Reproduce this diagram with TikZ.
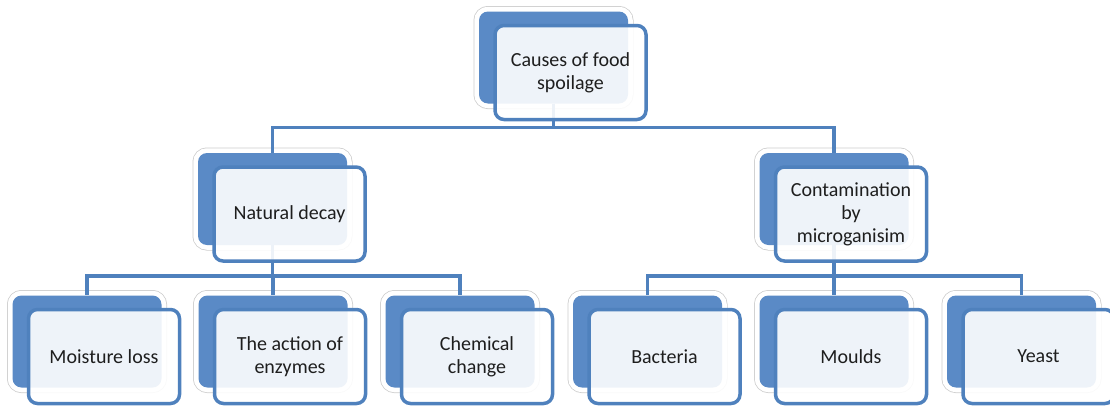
\documentclass[tikz,border=0pt]{standalone}
\usepackage{fontspec}
\setmainfont{Carlito}
\usetikzlibrary{calc}
\definecolor{accfill}{HTML}{5A8AC6}
\definecolor{accline}{HTML}{4F81BD}
\definecolor{txt}{HTML}{1E1E1E}
\begin{document}
\begin{tikzpicture}[x=1pt,y=-1pt,
  back/.style={minimum width=149pt, minimum height=92pt, inner sep=0pt,
    rounded corners=9pt, fill=accfill,
    preaction={draw=black!20, line width=11pt},
    preaction={draw=white, line width=9.5pt}},
  front/.style={minimum width=151pt, minimum height=94pt, inner sep=2pt,
    align=center, rounded corners=9pt,
    draw=accline, line width=3.5pt, fill=white, fill opacity=0.9,
    text opacity=1, text=txt,
    font=\fontsize{20}{23}\selectfont},
  conn/.style={draw=accline, line width=3.5pt}]
\useasboundingbox (0,0) rectangle (1110,407);

\coordinate (P0) at (553.5,57.5);
\coordinate (P1) at (272.5,199);
\coordinate (P2) at (834,199);
\coordinate (Q1) at (87,341.5);
\coordinate (Q2) at (273,341.5);
\coordinate (Q3) at (460,341.5);
\coordinate (Q4) at (647.5,341.5);
\coordinate (Q5) at (834,341.5);
\coordinate (Q6) at (1021.5,341.5);

% back boxes
\node[back] (b0) at (P0) {};
\node[back] (b1) at (P1) {};
\node[back] (b2) at (P2) {};
\node[back] (c1) at (Q1) {};
\node[back] (c2) at (Q2) {};
\node[back] (c3) at (Q3) {};
\node[back] (c4) at (Q4) {};
\node[back] (c5) at (Q5) {};
\node[back] (c6) at (Q6) {};

% connectors
\draw[conn] (b0.south) -- ++(0,24) -| (b1.north);
\draw[conn] (b0.south) -- ++(0,24) -| (b2.north);
\foreach \c in {c1,c2,c3} \draw[conn] (b1.south) -- ++(0,31) -| (\c.north);
\foreach \c in {c4,c5,c6} \draw[conn] (b2.south) -- ++(0,31) -| (\c.north);

% front boxes
\node[front] (f0) at ($(P0)+(17,15)$) {Causes of food\\spoilage};
\node[front] (f1) at ($(P1)+(17,15)$) {Natural decay};
\node[front] (f2) at ($(P2)+(17,15)$) {Contamination\\by\\microganisim};
\node[front] (g1) at ($(Q1)+(17,15)$) {Moisture loss};
\node[front] (g2) at ($(Q2)+(17,15)$) {The action of\\enzymes};
\node[front] (g3) at ($(Q3)+(17,15)$) {Chemical\\change};
\node[front] (g4) at ($(Q4)+(17,15)$) {Bacteria};
\node[front] (g5) at ($(Q5)+(17,15)$) {Moulds};
\node[front] (g6) at ($(Q6)+(17,15)$) {Yeast};
\end{tikzpicture}
\end{document}
